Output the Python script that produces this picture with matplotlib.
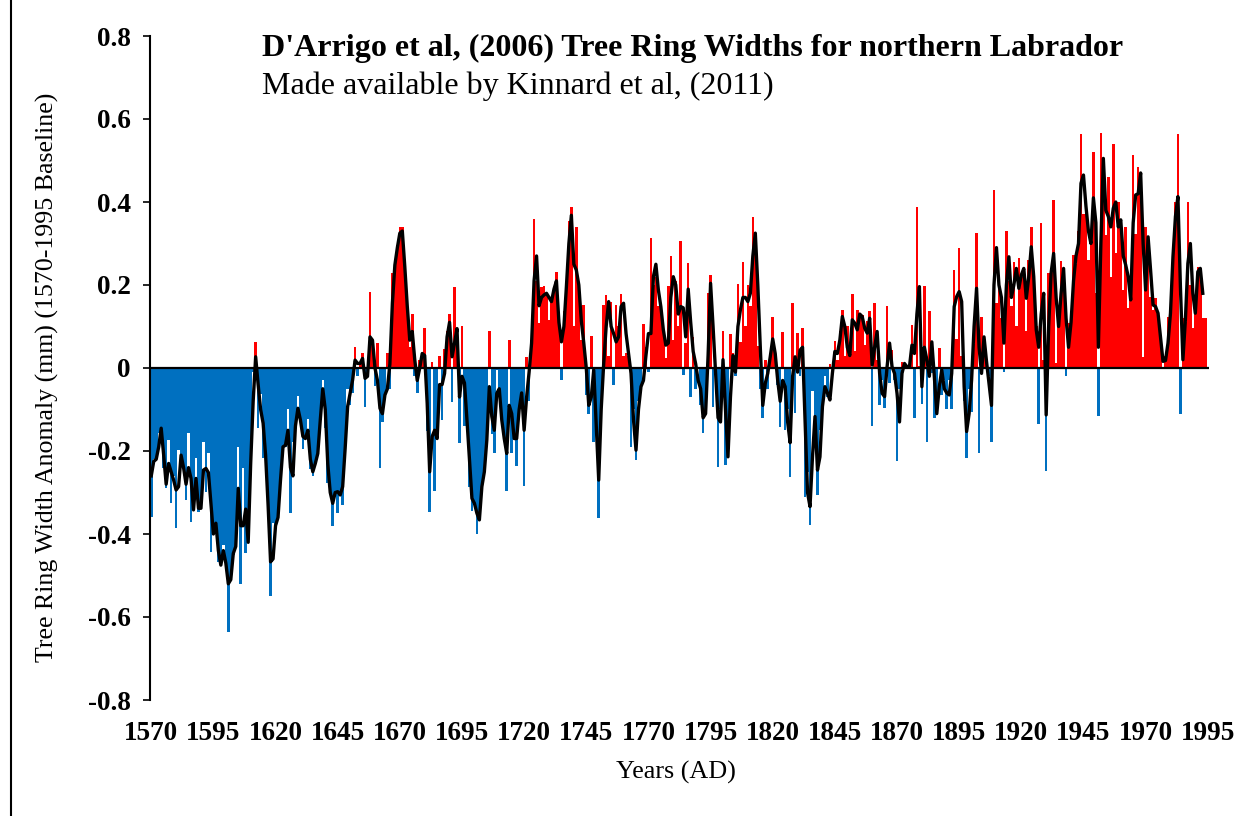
import numpy as np
import matplotlib
matplotlib.use("Agg")
import matplotlib.pyplot as plt
from matplotlib.lines import Line2D

plt.rcParams['font.family'] = ['Liberation Serif', 'DejaVu Serif']

# ---------------- data ----------------
first_year = 1570
# annual tree-ring width anomaly (mm), one value per year from 1570
annual = [
    -0.36, -0.22, -0.22, -0.156, -0.15, -0.24, -0.29, -0.173, -0.326, -0.26,   # 1570
    -0.386, -0.198, -0.21, -0.24, -0.318, -0.157, -0.37, -0.34, -0.218, -0.346,  # 1580
    -0.34, -0.178, -0.30, -0.206, -0.443, -0.40, -0.37, -0.467, -0.47, -0.426,   # 1590
    -0.47, -0.635, -0.51, -0.45, -0.43, -0.19, -0.52, -0.24, -0.445, -0.42,      # 1600
    -0.23, -0.01, 0.063, -0.145, -0.063, -0.218, -0.21, -0.33, -0.55, -0.374,    # 1610
    -0.38, -0.36, -0.27, -0.19, -0.19, -0.10, -0.35, -0.178, -0.14, -0.067,      # 1620
    -0.13, -0.196, -0.17, -0.124, -0.244, -0.26, -0.23, -0.206, -0.125, -0.03,   # 1630
    -0.145, -0.276, -0.30, -0.38, -0.30, -0.35, -0.30, -0.33, -0.19, -0.05,      # 1640
    -0.09, -0.06, 0.05, -0.02, 0.01, 0.035, -0.095, -0.02, 0.184, 0.067,         # 1650
    -0.043, 0.06, -0.242, -0.13, -0.06, 0.035, -0.05, 0.228, 0.25, 0.296,        # 1660
    0.34, 0.34, 0.244, 0.148, 0.05, 0.13, -0.02, -0.06, 0.02, 0.03,              # 1670
    0.096, -0.153, -0.346, 0.015, -0.296, -0.17, 0.03, -0.125, 0.045, 0.09,      # 1680
    0.13, -0.083, 0.194, 0.09, -0.18, 0.10, -0.14, -0.12, -0.286, -0.344,        # 1690
    -0.33, -0.40, -0.36, -0.29, -0.25, -0.17, 0.088, -0.16, -0.204, -0.005,      # 1700
    -0.05, -0.117, -0.17, -0.296, 0.067, -0.204, -0.17, -0.236, -0.10, -0.08,    # 1710
    -0.284, 0.026, -0.079, 0.067, 0.358, 0.21, 0.108, 0.194, 0.197, 0.18,        # 1720
    0.115, 0.16, 0.19, 0.232, 0.108, -0.03, 0.138, 0.196, 0.355, 0.389,          # 1730
    0.10, 0.339, 0.18, 0.067, 0.152, -0.065, -0.11, 0.077, -0.178, -0.12,        # 1740
    -0.362, -0.10, 0.152, 0.176, 0.03, 0.16, -0.04, 0.153, 0.10, 0.178,          # 1750
    0.03, 0.037, 0.03, -0.19, -0.10, -0.222, -0.08, -0.06, 0.106, 0.05,          # 1760
    -0.01, 0.314, 0.20, 0.22, 0.15, 0.13, 0.09, 0.023, 0.198, 0.27,              # 1770
    0.067, 0.21, 0.10, 0.307, -0.017, 0.06, 0.254, -0.07, 0.075, -0.05,          # 1780
    0.0, -0.09, -0.157, -0.10, 0.18, 0.224, -0.095, 0.0, -0.238, -0.10,          # 1790
    0.09, -0.234, -0.218, 0.082, 0.035, -0.02, 0.202, 0.063, 0.256, 0.10,        # 1800
    0.20, 0.15, 0.363, 0.30, 0.053, -0.051, -0.12, 0.02, -0.05, 0.02,            # 1810
    0.122, 0.03, -0.04, -0.143, 0.087, -0.15, -0.10, -0.262, 0.157, -0.108,      # 1820
    0.084, -0.02, 0.096, -0.31, -0.25, -0.378, -0.055, -0.15, -0.306, -0.15,     # 1830
    -0.10, -0.02, -0.07, 0.01, 0.0, 0.066, 0.02, 0.09, 0.14, 0.03,               # 1840
    0.10, 0.06, 0.178, 0.04, 0.14, 0.12, 0.128, 0.055, 0.113, 0.138,            # 1850
    -0.14, 0.156, 0.02, -0.09, -0.03, -0.097, 0.15, -0.037, 0.043, -0.03,        # 1860
    -0.223, -0.05, 0.015, 0.01, 0.0, 0.005, 0.104, -0.12, 0.387, 0.005,          # 1870
    -0.087, 0.198, -0.178, 0.137, -0.011, -0.12, -0.10, 0.047, -0.065, -0.03,    # 1880
    -0.10, -0.03, -0.10, 0.235, 0.07, 0.29, 0.03, -0.08, -0.218, -0.05,          # 1890
    -0.105, 0.058, 0.325, -0.206, 0.124, 0.03, 0.02, -0.02, -0.178, 0.43,        # 1900
    0.156, 0.224, 0.12, -0.01, 0.33, 0.21, 0.15, 0.256, 0.10, 0.266,             # 1910
    0.22, 0.24, 0.09, 0.26, 0.339, 0.22, 0.10, -0.135, 0.349, 0.02,              # 1920
    -0.247, 0.23, 0.20, 0.405, 0.011, 0.15, 0.258, 0.22, -0.02, 0.108,           # 1930
    0.10, 0.272, 0.25, 0.33, 0.565, 0.37, 0.40, 0.26, 0.33, 0.52,                # 1940
    0.18, -0.116, 0.567, 0.45, 0.32, 0.46, 0.22, 0.54, 0.276, 0.40,              # 1950
    0.33, 0.188, 0.34, 0.144, 0.19, 0.513, 0.324, 0.484, 0.44, 0.027,            # 1960
    0.34, 0.30, 0.17, 0.14, 0.168, 0.13, 0.08, 0.0, 0.03, 0.124,                 # 1970
    0.14, 0.284, 0.40, 0.565, -0.112, 0.12, 0.11, 0.40, 0.20, 0.096,             # 1980
    0.17, 0.244, 0.24, 0.12, 0.12,                                               # 1990
]

# 2-year moving average (black line), from 1570
smooth = [
    -0.26, -0.225, -0.22, -0.19, -0.145, -0.21, -0.28, -0.23, -0.25, -0.27,      # 1570
    -0.294, -0.286, -0.21, -0.24, -0.28, -0.24, -0.266, -0.342, -0.266, -0.338,  # 1580
    -0.338, -0.246, -0.242, -0.252, -0.326, -0.40, -0.374, -0.44, -0.475, -0.44, # 1590
    -0.47, -0.52, -0.51, -0.447, -0.43, -0.29, -0.38, -0.38, -0.34, -0.42,       # 1600
    -0.23, -0.08, 0.027, -0.04, -0.10, -0.133, -0.21, -0.33, -0.467, -0.46,      # 1610
    -0.38, -0.36, -0.27, -0.19, -0.186, -0.15, -0.24, -0.26, -0.14, -0.097,      # 1620
    -0.125, -0.165, -0.17, -0.15, -0.22, -0.25, -0.23, -0.206, -0.125, -0.05,    # 1630
    -0.10, -0.23, -0.30, -0.326, -0.30, -0.298, -0.306, -0.286, -0.194, -0.093,  # 1640
    -0.061, -0.029, 0.019, 0.011, 0.011, 0.023, -0.025, -0.02, 0.075, 0.067,     # 1650
    0.0, -0.03, -0.097, -0.11, -0.065, -0.05, 0.01, 0.156, 0.248, 0.29,          # 1660
    0.325, 0.33, 0.244, 0.148, 0.067, 0.088, 0.02, -0.03, 0.0, 0.035,            # 1670
    0.03, -0.085, -0.25, -0.165, -0.15, -0.17, -0.04, -0.04, -0.013, 0.075,      # 1680
    0.11, 0.027, 0.06, 0.095, -0.07, -0.02, -0.036, -0.125, -0.22, -0.314,       # 1690
    -0.326, -0.35, -0.366, -0.286, -0.25, -0.173, -0.045, -0.117, -0.15, -0.061, # 1700
    -0.05, -0.125, -0.17, -0.206, -0.09, -0.11, -0.17, -0.17, -0.10, -0.06,      # 1710
    -0.15, -0.07, -0.01, 0.06, 0.21, 0.27, 0.15, 0.17, 0.176, 0.18,              # 1720
    0.17, 0.16, 0.19, 0.21, 0.11, 0.063, 0.10, 0.196, 0.30, 0.368,               # 1730
    0.25, 0.236, 0.20, 0.114, 0.06, 0.0, -0.09, -0.07, -0.005, -0.14,            # 1740
    -0.27, -0.10, 0.01, 0.10, 0.16, 0.10, 0.083, 0.063, 0.075, 0.148,            # 1750
    0.156, 0.083, 0.035, -0.013, -0.125, -0.198, -0.10, -0.045, -0.03, 0.03,     # 1760
    0.083, 0.083, 0.22, 0.25, 0.188, 0.148, 0.092, 0.055, 0.06, 0.17,            # 1770
    0.22, 0.20, 0.13, 0.148, 0.145, 0.075, 0.19, 0.11, 0.04, 0.01,               # 1780
    -0.03, -0.05, -0.12, -0.11, 0.03, 0.204, 0.10, -0.01, -0.12, -0.13,          # 1790
    0.02, -0.10, -0.214, -0.07, 0.03, -0.01, 0.10, 0.14, 0.17, 0.17,             # 1800
    0.16, 0.18, 0.27, 0.325, 0.20, 0.05, -0.09, -0.037, -0.013, 0.027,           # 1810
    0.07, 0.035, -0.03, -0.08, -0.03, -0.045, -0.13, -0.18, -0.02, 0.027,        # 1820
    -0.01, 0.043, 0.05, -0.125, -0.30, -0.334, -0.214, -0.117, -0.246, -0.214,   # 1830
    -0.093, -0.045, -0.06, -0.077, -0.013, 0.04, 0.035, 0.067, 0.124, 0.10,      # 1840
    0.05, 0.03, 0.116, 0.108, 0.092, 0.13, 0.124, 0.096, 0.084, 0.12,            # 1850
    0.007, 0.05, 0.088, -0.013, -0.061, -0.069, 0.003, 0.06, 0.003, -0.013,      # 1860
    -0.061, -0.13, -0.013, 0.011, 0.003, 0.003, 0.055, 0.035, 0.13, 0.196,       # 1870
    -0.045, 0.05, 0.02, -0.02, 0.063, -0.02, -0.11, -0.045, -0.005, -0.05,       # 1880
    -0.06, -0.065, -0.013, 0.148, 0.172, 0.184, 0.16, -0.045, -0.153, -0.11,     # 1890
    -0.029, 0.10, 0.192, 0.05, -0.013, 0.075, 0.016, -0.037, -0.09, 0.20,        # 1900
    0.29, 0.20, 0.17, 0.06, 0.20, 0.268, 0.17, 0.20, 0.24, 0.192,                # 1910
    0.224, 0.24, 0.168, 0.22, 0.292, 0.22, 0.092, 0.05, 0.13, 0.18,              # 1920
    -0.113, 0.10, 0.23, 0.276, 0.17, 0.10, 0.18, 0.24, 0.12, 0.05,               # 1930
    0.11, 0.21, 0.27, 0.30, 0.445, 0.465, 0.39, 0.33, 0.30, 0.41,                # 1940
    0.35, 0.05, 0.30, 0.505, 0.38, 0.365, 0.34, 0.385, 0.40, 0.34,               # 1950
    0.357, 0.27, 0.248, 0.22, 0.164, 0.35, 0.417, 0.42, 0.47, 0.30,              # 1960
    0.188, 0.316, 0.236, 0.152, 0.148, 0.132, 0.075, 0.016, 0.018, 0.06,         # 1970
    0.132, 0.268, 0.365, 0.413, 0.196, 0.02, 0.116, 0.252, 0.30, 0.18,           # 1980
    0.132, 0.232, 0.24, 0.18,                                                    # 1990
]

x_tick_years = [1570, 1595, 1620, 1645, 1670, 1695, 1720, 1745, 1770,
                1795, 1820, 1845, 1870, 1895, 1920, 1945, 1970, 1995]
y_ticks = [-0.8, -0.6, -0.4, -0.2, 0.0, 0.2, 0.4, 0.6, 0.8]
y_tick_labels = ['-0.8', '-0.6', '-0.4', '-0.2', '0', '0.2', '0.4', '0.6', '0.8']

title = "D'Arrigo et al, (2006) Tree Ring Widths for northern Labrador"
subtitle = "Made available by Kinnard et al, (2011)"
x_label = "Years (AD)"
y_label = "Tree Ring Width Anomaly (mm) (1570-1995 Baseline)"

POS_COLOR = '#FF0000'
NEG_COLOR = '#0070C0'

# ---------------- figure ----------------
W, H = 1257, 816
fig = plt.figure(figsize=(W / 100, H / 100), dpi=100)
fig.patch.set_facecolor('white')

ax_left, ax_right, ax_top, ax_bottom = 150, 1209, 36, 700
ax = fig.add_axes([ax_left / W, 1 - ax_bottom / H,
                   (ax_right - ax_left) / W, (ax_bottom - ax_top) / H])

years = first_year + np.arange(len(annual))
vals = np.array(annual)
colors = [POS_COLOR if v >= 0 else NEG_COLOR for v in vals]
ax.bar(years, vals, width=1.04, color=colors, linewidth=0, zorder=2)

s_years = first_year + np.arange(len(smooth))
ax.plot(s_years, smooth, color='black', lw=2.4, solid_joinstyle='round', zorder=4)

ax.axhline(0, color='black', lw=1.6, zorder=3)

ax.set_xlim(1569.5, 1995.5)
ax.set_ylim(-0.8, 0.8)

ax.set_yticks(y_ticks)
ax.set_yticklabels(y_tick_labels, fontsize=19.5, fontweight='bold')
ax.set_xticks(x_tick_years)
ax.set_xticklabels([str(y) for y in x_tick_years], fontsize=19.5, fontweight='bold')

ax.tick_params(axis='y', direction='out', length=5, width=1.2, pad=9)
ax.tick_params(axis='x', length=0, pad=15)

for side in ['top', 'right', 'bottom']:
    ax.spines[side].set_visible(False)
ax.spines['left'].set_linewidth(1.5)

fig.text(262 / W, 1 - 48 / H, title, fontsize=23, fontweight='bold',
         ha='left', va='center')
fig.text(262 / W, 1 - 86 / H, subtitle, fontsize=23, ha='left', va='center')

fig.text(676 / W, 1 - 772 / H, x_label, fontsize=18.8, ha='center', va='center')
fig.text(47 / W, 1 - 377 / H, y_label, fontsize=18.6, rotation=90,
         ha='center', va='center')

# outer chart border on the left edge
fig.add_artist(Line2D([10.5 / W, 10.5 / W], [0, 1], transform=fig.transFigure,
                      color='black', lw=1.5))

fig.savefig('out.png', dpi=100)
